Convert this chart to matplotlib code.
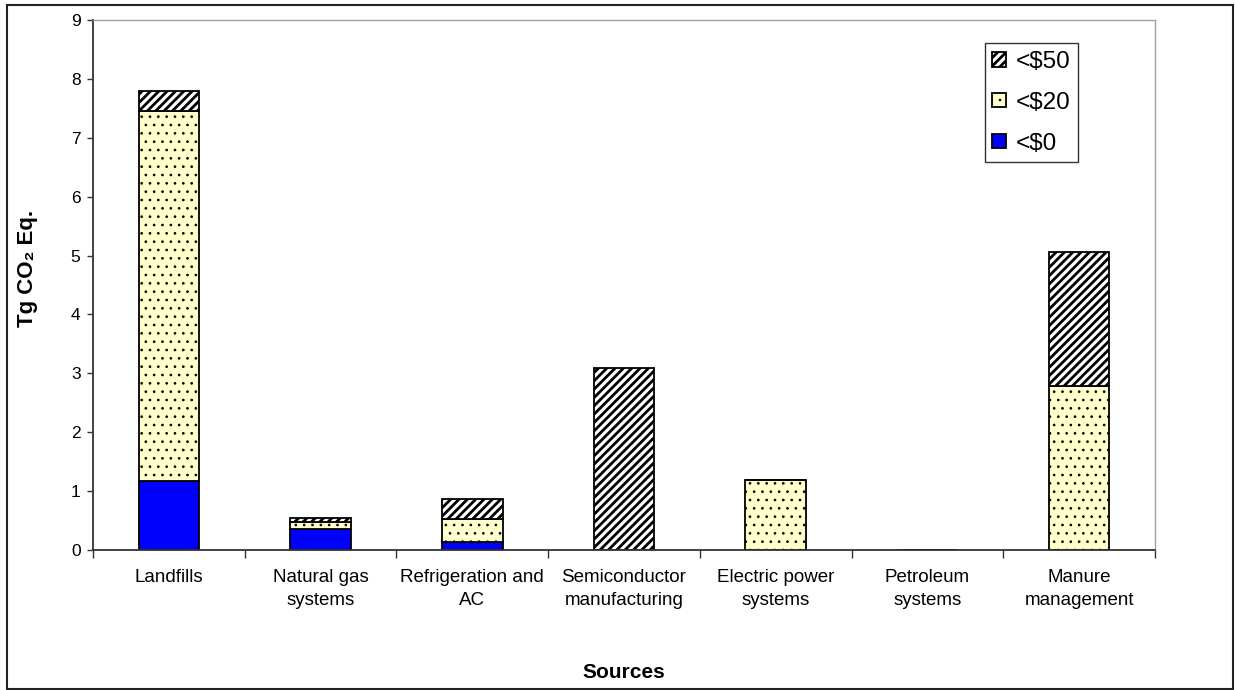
import numpy as np
import matplotlib
matplotlib.use("Agg")
import matplotlib.pyplot as plt
from matplotlib.patches import Rectangle

plt.rcParams['font.family'] = ['Liberation Sans', 'DejaVu Sans']

sources = ["Landfills", "Natural gas\nsystems", "Refrigeration and\nAC",
           "Semiconductor\nmanufacturing", "Electric power\nsystems",
           "Petroleum\nsystems", "Manure\nmanagement"]

# reductions by cost tier, Tg CO2 Eq.
below_0 = [1.18, 0.36, 0.13, 0.0, 0.0, 0.0, 0.0]
below_20 = [6.27, 0.11, 0.40, 0.0, 1.19, 0.0, 2.78]
below_50 = [0.35, 0.07, 0.34, 3.09, 0.0, 0.0, 2.28]

fig = plt.figure(figsize=(12.35, 6.9), dpi=100)
ax = fig.add_axes([93 / 1235, 1 - 550 / 690, 1062 / 1235, 530 / 690])

x = np.arange(len(sources))
w = 0.4
b0 = np.array(below_0)
b20 = np.array(below_20)
b50 = np.array(below_50)

with plt.rc_context({'hatch.linewidth': 1.0}):
    ax.bar(x, b0, w, color='#0000ff', edgecolor='black', linewidth=1.3, label='<$0')
with plt.rc_context({'hatch.linewidth': 0.7}):
    ax.bar(x, b20, w, bottom=b0, color='#ffffcc', edgecolor='black',
           linewidth=1.3, hatch='..', label='<$20')
with plt.rc_context({'hatch.linewidth': 2.0}):
    ax.bar(x, b50, w, bottom=b0 + b20, color='white', edgecolor='black',
           linewidth=1.3, hatch='////', label='<$50')

ax.set_xlim(-0.5, len(sources) - 0.5)
ax.set_ylim(0, 9)
ax.set_yticks(range(10))
ax.tick_params(axis='y', labelsize=12.5, length=4, width=1, color='#333333', pad=5)

# category boundaries get the tick marks, labels sit in the middle
ax.set_xticks(np.arange(len(sources) + 1) - 0.5)
ax.set_xticklabels([])
ax.set_xticks(x, minor=True)
ax.set_xticklabels(sources, minor=True, fontsize=13.5, linespacing=1.42)
ax.tick_params(axis='x', which='major', length=6, width=1, color='#333333')
ax.tick_params(axis='x', which='minor', length=0, pad=14)

for s in ['left', 'bottom']:
    ax.spines[s].set_color('#333333')
    ax.spines[s].set_linewidth(1.3)
for s in ['top', 'right']:
    ax.spines[s].set_color('#a0a0a0')
    ax.spines[s].set_linewidth(1.0)

ax.set_ylabel('Tg CO₂ Eq.', fontsize=16, fontweight='bold')
ax.yaxis.set_label_coords(-0.052, 0.532)
ax.set_xlabel('Sources', fontsize=15, fontweight='bold', labelpad=39)

handles, labels = ax.get_legend_handles_labels()
leg = ax.legend(handles[::-1], labels[::-1], loc='upper right',
                bbox_to_anchor=(1078 / 1235, 1 - 43 / 690),
                bbox_transform=fig.transFigure, fontsize=17.5,
                frameon=True, fancybox=False, edgecolor='black',
                handlelength=0.55, handleheight=0.55, handletextpad=0.4,
                labelspacing=0.78, borderpad=0.32, borderaxespad=0)
leg.get_frame().set_linewidth(1.0)
for h, lw in zip(leg.legend_handles, [2.0, 0.7, 1.0]):
    if hasattr(h, 'set_hatch_linewidth'):
        h.set_hatch_linewidth(lw)

# outer chart border
fig.patches.append(Rectangle((7 / 1235, 1 / 690), 1226 / 1235, 684 / 690,
                             transform=fig.transFigure, fill=False,
                             edgecolor='#222222', linewidth=1.5))

fig.savefig('out.png', dpi=100)
